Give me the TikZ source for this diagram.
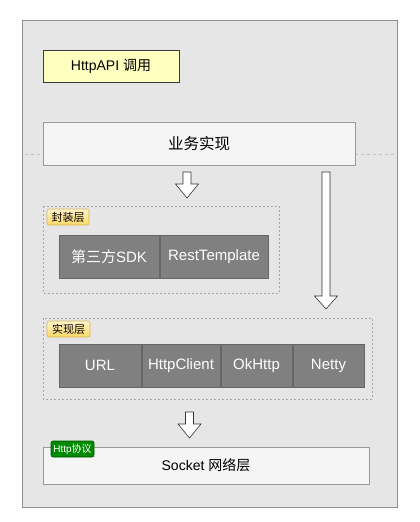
\documentclass[tikz,border=0pt]{standalone}
\usepackage{fontspec}
\setmainfont{Liberation Sans}
\newfontfamily\cjk{Noto Sans CJK SC}
\usetikzlibrary{positioning}
\definecolor{panelfill}{HTML}{E6E6E6}
\definecolor{panelline}{HTML}{8F8F8F}
\definecolor{lightfill}{HTML}{F5F5F5}
\definecolor{lightline}{HTML}{999999}
\definecolor{notefill}{HTML}{FFFFC0}
\definecolor{noteline}{HTML}{36393D}
\definecolor{libfill}{HTML}{808080}
\definecolor{libline}{HTML}{666666}
\definecolor{tagtop}{HTML}{FFF2CC}
\definecolor{tagbot}{HTML}{FFD966}
\definecolor{tagline}{HTML}{D6B656}
\definecolor{greenfill}{HTML}{008A00}
\definecolor{greenline}{HTML}{005700}
\definecolor{groupline}{HTML}{A6A6A6}
\definecolor{arrowline}{HTML}{333333}
\tikzset{
  x=1pt, y=-1pt,
  lightbox/.style={draw=lightline, fill=lightfill, line width=0.8pt, inner sep=0pt},
  notebox/.style={draw=noteline, fill=notefill, line width=0.8pt, inner sep=0pt},
  libbox/.style={draw=libline, fill=libfill, line width=1pt, inner sep=0pt, text=white,
    font=\fontsize{15}{18}\selectfont},
  groupbox/.style={draw=groupline, dash pattern=on 2pt off 2pt, line width=0.7pt},
  tag/.style={draw=tagline, top color=tagtop, bottom color=tagbot, rounded corners=2pt,
    line width=0.6pt, inner sep=0pt, font=\fontsize{11}{13}\selectfont},
  greentag/.style={draw=greenline, fill=greenfill, rounded corners=2pt, text=white,
    line width=0.6pt, inner sep=0pt, font=\fontsize{10}{12}\selectfont},
  blockarrow/.style={draw=arrowline, fill=white, line width=0.6pt, line join=miter},
}
% hollow block arrow pointing down: centre x, top y, start of head, tip y
\newcommand{\downblock}[4]{%
  \draw[blockarrow] (#1-4,#2) -- (#1+4,#2) -- (#1+4,#3) -- (#1+11.5,#3) -- (#1,#4)
    -- (#1-11.5,#3) -- (#1-4,#3) -- cycle;}
\begin{document}
\begin{tikzpicture}
\useasboundingbox (0,0) rectangle (420,522);
\fill[white] (0,0) rectangle (420,522);

% outer panel
\draw[panelline, fill=panelfill, line width=0.8pt] (22,20) rectangle (397.5,507.5);
% thin dashed divider behind the business box
\draw[draw=lightline!60, dash pattern=on 3pt off 3pt, line width=0.6pt] (25,154) -- (397,154);

% caller note
\node[notebox, minimum width=136pt, minimum height=32pt, font=\fontsize{14}{17}\selectfont]
  (caller) at (111,66) {HttpAPI {\cjk 调用}};

% business layer
\node[lightbox, minimum width=312pt, minimum height=43pt, font=\fontsize{15.5}{18}\selectfont]
  (biz) at (199,143.5) {\cjk 业务实现};

% wrapper group
\draw[groupbox] (43,206) rectangle (279,293);
\node[tag, minimum width=42pt, minimum height=16pt] (wraptag) at (68,217) {\cjk 封装层};
\node[libbox, minimum width=100pt, minimum height=43pt] (sdk) at (109,256.5) {{\cjk 第三方}SDK};
\node[libbox, minimum width=108pt, minimum height=43pt, right=0pt of sdk] (rest) {RestTemplate};

% implementation group
\draw[groupbox] (43,318) rectangle (372,399);
\node[tag, minimum width=43pt, minimum height=16pt] (impltag) at (68.5,329) {\cjk 实现层};
\node[libbox, minimum width=82pt, minimum height=43pt] (url) at (100,365.5) {URL};
\node[libbox, minimum width=78pt, minimum height=43pt, right=0pt of url] (hc) {HttpClient};
\node[libbox, minimum width=71pt, minimum height=43pt, right=0pt of hc] (ok) {OkHttp};
\node[libbox, minimum width=71pt, minimum height=43pt, right=0pt of ok] (netty) {Netty};

% socket layer
\node[lightbox, minimum width=326pt, minimum height=37pt, font=\fontsize{14}{17}\selectfont]
  (sock) at (206,465.5) {Socket {\cjk 网络层}};
\node[greentag, minimum width=43pt, minimum height=16pt] (proto) at (72.5,449) {Http{\cjk 协议}};

% flow arrows
\downblock{187}{172}{184}{198}
\downblock{326}{172}{296}{309}
\downblock{189.5}{412}{424}{438}
\end{tikzpicture}
\end{document}
